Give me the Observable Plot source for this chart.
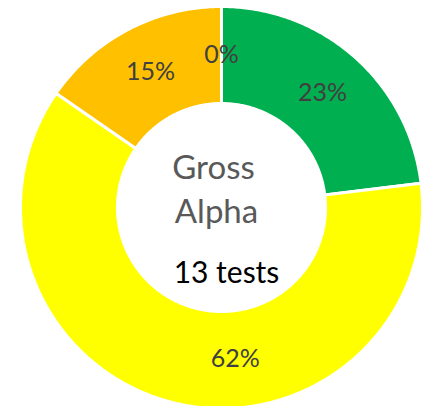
<!DOCTYPE html>
<html>
<head>
<meta charset="utf-8">
<script src="https://cdn.jsdelivr.net/npm/d3@7"></script>
<script src="https://cdn.jsdelivr.net/npm/@observablehq/plot@0.6"></script>
<style>
  html, body { margin: 0; padding: 0; background: #fff; }
  #chart svg { display: block; }
</style>
</head>
<body>
<div id="chart"></div>
<script>
// ---- data ----
const categories = ["Band 1", "Band 2", "Band 3", "Band 4"];
const counts = [3, 8, 2, 0];
const colors = ["#00B050", "#FFFF00", "#FFC000", "#FF0000"];
const titleLines = ["Gross", "Alpha"];
const testsLabel = "13 tests";

// ---- layout ----
const W = 429, H = 406;
const cx = 221, cy = 207;       // pie centre in pixels
const rOuter = 201, rInner = 104;
const font = "Lato, 'Open Sans', sans-serif";
const labelAngleNudge = {"Band 2": -19}; // degrees, mimics manual label placement

const total = d3.sum(counts);
const arcs = d3.pie().sort(null).value(d => d)(counts);

const pts = [];
arcs.forEach((a, i) => {
  const cat = categories[i];
  const n = Math.max(2, Math.ceil((a.endAngle - a.startAngle) / 0.01));
  const ring = [];
  for (let k = 0; k <= n; k++) {
    const t = a.startAngle + (a.endAngle - a.startAngle) * k / n;
    ring.push({cat, x: rOuter * Math.sin(t), y: rOuter * Math.cos(t)});
  }
  for (let k = n; k >= 0; k--) {
    const t = a.startAngle + (a.endAngle - a.startAngle) * k / n;
    ring.push({cat, x: rInner * Math.sin(t), y: rInner * Math.cos(t)});
  }
  ring.push({...ring[0]});
  pts.push(...ring);
});

const labels = arcs.map((a, i) => {
  const cat = categories[i];
  const mid = (a.startAngle + a.endAngle) / 2 + (labelAngleNudge[cat] || 0) * Math.PI / 180;
  const r = (rOuter + rInner) / 2;
  return {cat, x: r * Math.sin(mid), y: r * Math.cos(mid),
          text: Math.round(counts[i] / total * 100) + "%"};
});

const chart = Plot.plot({
  width: W, height: H,
  margin: 0,
  x: {domain: [-cx, W - cx], axis: null},
  y: {domain: [-(H - cy), cy], axis: null},
  color: {domain: categories, range: colors},
  marks: [
    Plot.line(pts, {x: "x", y: "y", z: "cat", fill: "cat", stroke: "white", strokeWidth: 3, strokeLinejoin: "miter"}),
    Plot.text(labels, {x: "x", y: "y", text: "text", fill: "#404040", fontSize: 25, fontFamily: font, textAnchor: "middle", lineAnchor: "middle"}),
    Plot.text([titleLines[0]], {x: () => 0, y: () => 0, text: d => d, dx: -8, dy: -29, lineAnchor: "bottom", fill: "#595959", fontSize: 33, fontFamily: font}),
    Plot.text([titleLines[1]], {x: () => 0, y: () => 0, text: d => d, dx: -5, dy: 15, lineAnchor: "bottom", fill: "#595959", fontSize: 33, fontFamily: font}),
    Plot.text([testsLabel], {x: () => 0, y: () => 0, text: d => d, dx: 5, dy: 75, lineAnchor: "bottom", fill: "#000000", fontSize: 30, fontFamily: font})
  ]
});
document.getElementById("chart").appendChild(chart);
</script>
</body>
</html>
